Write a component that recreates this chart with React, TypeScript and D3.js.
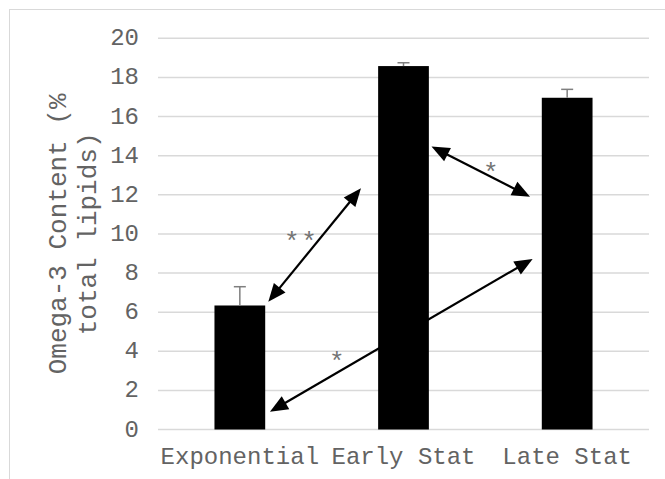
import React from "react";
import * as d3 from "d3";

const categories = ["Exponential", "Early Stat", "Late Stat"];
const values = [6.34, 18.58, 16.96];
const errors = [0.96, 0.17, 0.43];
const yTicks = [0, 2, 4, 6, 8, 10, 12, 14, 16, 18, 20];
const yTitleLines = ["Omega-3 Content (%", "total lipids)"];

// annotation arrows, x in category units (0 = first category centre), y in data units
const arrowStartX = [0.174, 0.184, 1.171];
const arrowStartY = [6.53, 0.91, 14.47];
const arrowEndX = [0.74, 1.789, 1.773];
const arrowEndY = [12.33, 8.72, 11.9];

// significance stars
const starX = [0.317, 0.423, 0.592, 1.533];
const starY = [9.78, 9.79, 3.66, 13.3];

const W = 665;
const H = 479;
const FONT = "'Liberation Mono', 'Courier New', monospace";
const TEXT = "#636363";
const GRID = "#d9d9d9";

export default function App() {
  const plotLeft = 158;
  const plotRight = 649;
  const y = d3.scaleLinear().domain([0, 20]).range([429.5, 38.3]);
  const x = d3
    .scaleBand<string>()
    .domain(categories)
    .range([plotLeft, plotRight])
    .paddingInner(0.69)
    .paddingOuter(0.345);
  const xPos = d3.scaleLinear().domain([-0.5, 2.5]).range([plotLeft, plotRight]);

  const shorten = (x1: number, y1: number, x2: number, y2: number, d: number) => {
    const len = Math.hypot(x2 - x1, y2 - y1);
    const ux = (x2 - x1) / len;
    const uy = (y2 - y1) / len;
    return [x1 + ux * d, y1 + uy * d, x2 - ux * d, y2 - uy * d];
  };

  const arrowHead = (tx: number, ty: number, fx: number, fy: number) => {
    const len = Math.hypot(tx - fx, ty - fy);
    const ux = (tx - fx) / len;
    const uy = (ty - fy) / len;
    const L = 18;
    const hw = 7.5;
    const bx = tx - ux * L;
    const by = ty - uy * L;
    const px = -uy;
    const py = ux;
    return `M${tx},${ty}L${bx + px * hw},${by + py * hw}L${bx - px * hw},${by - py * hw}Z`;
  };

  const yMid = (y(0) + y(20)) / 2;

  return (
    <svg
      width={W}
      height={H}
      style={{ position: "absolute", left: 0, top: 0, background: "#fff" }}
    >
      <rect x={9.5} y={9.5} width={W + 20} height={H + 20} fill="#fff" stroke="#d9d9d9" strokeWidth={1} />

      {yTicks.map((t) => (
        <line
          key={"g" + t}
          x1={plotLeft}
          x2={plotRight}
          y1={y(t)}
          y2={y(t)}
          stroke={GRID}
          strokeWidth={1.5}
        />
      ))}

      {yTicks.map((t) => (
        <text
          key={"t" + t}
          x={139}
          y={y(t) + 7}
          textAnchor="end"
          fontFamily={FONT}
          fontSize={24}
          fill={TEXT}
        >
          {t}
        </text>
      ))}

      {yTitleLines.map((line, i) => (
        <text
          key={"yt" + i}
          transform={`translate(${i === 0 ? 66 : 96},${yMid}) rotate(-90)`}
          textAnchor="middle"
          fontFamily={FONT}
          fontSize={26}
          fill={TEXT}
        >
          {line}
        </text>
      ))}

      {arrowStartX.map((_, i) => {
        const x1 = xPos(arrowStartX[i]);
        const y1 = y(arrowStartY[i]);
        const x2 = xPos(arrowEndX[i]);
        const y2 = y(arrowEndY[i]);
        const s = shorten(x1, y1, x2, y2, 6);
        return (
          <g key={"a" + i}>
            <line x1={s[0]} y1={s[1]} x2={s[2]} y2={s[3]} stroke="#000" strokeWidth={2.2} />
            <path d={arrowHead(x1, y1, x2, y2)} fill="#000" />
            <path d={arrowHead(x2, y2, x1, y1)} fill="#000" />
          </g>
        );
      })}

      {categories.map((c, i) => (
        <rect
          key={"b" + c}
          x={x(c)}
          y={y(values[i])}
          width={x.bandwidth()}
          height={y(0) - y(values[i])}
          fill="#000"
        />
      ))}

      {categories.map((c, i) => {
        const cx = (x(c) as number) + x.bandwidth() / 2;
        return (
          <g key={"e" + c} stroke="#7f7f7f" strokeWidth={1.5}>
            <line x1={cx} x2={cx} y1={y(values[i])} y2={y(values[i] + errors[i])} />
            <line x1={cx - 6} x2={cx + 6} y1={y(values[i] + errors[i])} y2={y(values[i] + errors[i])} />
          </g>
        );
      })}

      {starX.map((sx, i) => (
        <text
          key={"s" + i}
          x={xPos(sx)}
          y={y(starY[i]) + 12}
          textAnchor="middle"
          fontFamily={FONT}
          fontSize={26}
          fill="#737373"
        >
          *
        </text>
      ))}

      {categories.map((c) => (
        <text
          key={"x" + c}
          x={(x(c) as number) + x.bandwidth() / 2}
          y={463.5}
          textAnchor="middle"
          fontFamily={FONT}
          fontSize={24}
          fill={TEXT}
        >
          {c}
        </text>
      ))}
    </svg>
  );
}
